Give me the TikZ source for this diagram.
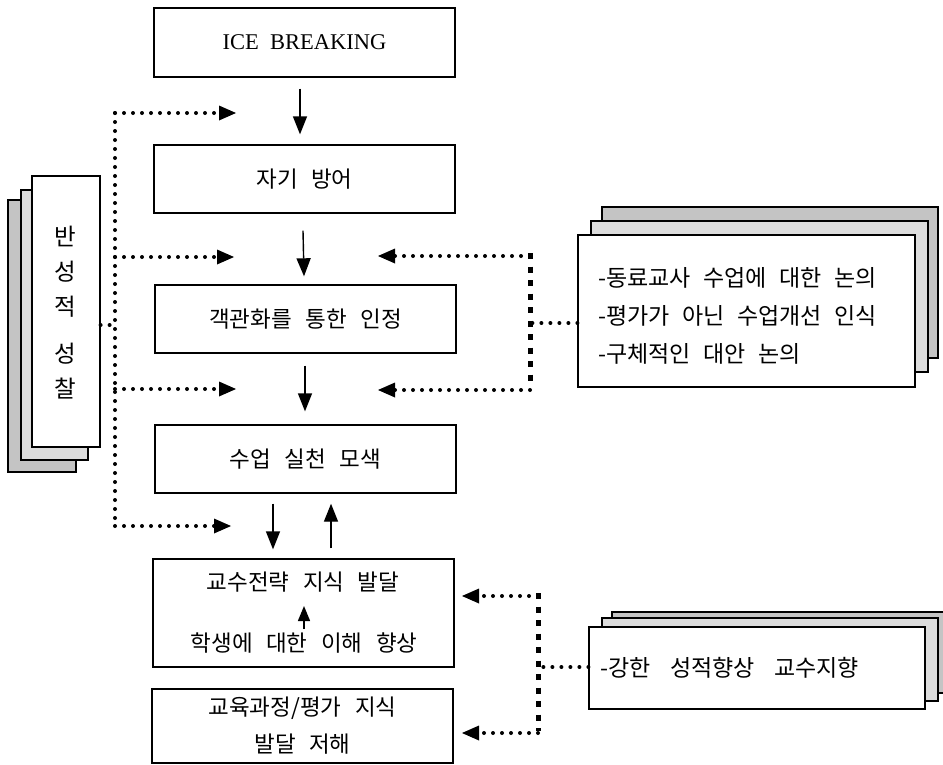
\documentclass[tikz,border=0pt]{standalone}
\usepackage{fontspec}
\setmainfont{Liberation Serif}
\newfontfamily\kr{Noto Sans CJK KR}
\newcommand\ks{\hspace{0.6em}}
\newcommand\kss{\hspace{0.55em}}
\newcommand\ksb{\hspace{0.85em}}
\usetikzlibrary{arrows.meta}
\definecolor{backgray}{HTML}{C4C4C4}
\definecolor{midgray}{HTML}{DCDCDC}
\begin{document}
\begin{tikzpicture}[x=1pt,y=-1pt,
  box/.style={draw,line width=1.4pt,inner sep=0pt,align=center,
    minimum width=301pt,font=\kr\fontsize{22.5}{37}\selectfont},
  sheet/.style={draw,line width=1.2pt},
  front/.style={sheet,fill=white,inner sep=0pt},
  flow/.style={line width=1.4pt,-{Triangle[length=18pt,width=14pt]}},
  dotline/.style={line width=4pt,line cap=round,dash pattern=on 0pt off 9pt},
  sqline/.style={line width=5pt,line cap=butt,dash pattern=on 6pt off 7.5pt},
  dotarrow/.style={dotline,-{Triangle[length=17pt,width=15pt,line width=0pt]}},
  sidetext/.style={font=\kr\fontsize{23}{38}\selectfont}
]
\useasboundingbox (0,0) rectangle (943,764);

% main column
\node[box,minimum height=69pt] (ice) at (304.5,42.5) {\rmfamily\fontsize{22.5}{26}\selectfont ICE\ \ BREAKING};
\node[box,minimum height=68pt] (def) at (304.5,179) {자기\ks 방어};
\node[box,minimum height=68pt] (obj) at (305.5,319) {객관화를\ks 통한\ks 인정};
\node[box,minimum height=68pt] (prac) at (305.5,459) {수업\ks 실천\ks 모색};
\node[box,minimum height=108pt] (strat) at (303.5,613) {};
\node[font=\kr\fontsize{22.5}{26}\selectfont] (stratA) at (303,582) {교수전략\ks 지식\ks 발달};
\node[font=\kr\fontsize{22.5}{26}\selectfont] (stratB) at (304,643) {학생에\ks 대한\ks 이해\ks 향상};
\node[box,minimum height=74pt] (curr) at (302.5,726) {교육과정/평가\ks 지식\\발달\ks 저해};

% solid arrows
\draw[flow] ([xshift=-4.5pt,yshift=-11pt]ice.south) -- ([xshift=-4.5pt,yshift=10pt]def.north);
\draw[flow] ([xshift=-1.5pt,yshift=-17pt]def.south) -- ([xshift=-1.5pt,yshift=8pt]obj.north);
\draw[flow] ([xshift=-0.5pt,yshift=-12pt]obj.south) -- ([xshift=-0.5pt,yshift=13pt]prac.north);
\draw[flow] ([xshift=-32.5pt,yshift=-10pt]prac.south) -- ([xshift=-30.5pt,yshift=9pt]strat.north);
\draw[flow] ([xshift=27.5pt,yshift=10pt]strat.north) -- ([xshift=25.5pt,yshift=-10pt]prac.south);
\coordinate (ia1) at (304,629);
\coordinate (ia2) at (304,606);
\draw[line width=1.4pt,-{Triangle[length=15pt,width=12pt]}] (ia1) -- (ia2);

% left stacked sheets
\draw[sheet,fill=backgray] (8,200) rectangle (76,472);
\draw[sheet,fill=midgray] (21,190) rectangle (88,460);
\node[front,minimum width=68pt,minimum height=271pt] (refl) at (66,311.5) {};
\node[font=\kr\fontsize{23.5}{35}\selectfont,align=center,inner sep=0pt] (refltext) at (65,313) {반\\성\\적\\[12pt]성\\찰};

% left dotted bus
\coordinate (lb1) at (115,113);
\coordinate (lb2) at (115,257);
\coordinate (lbm) at (115,325);
\coordinate (lb3) at (115,389);
\coordinate (lb4) at (115,526);
\coordinate (lt1) at (236,113);
\coordinate (lt2) at (234,257);
\coordinate (lt3) at (236,389);
\coordinate (lt4) at (231,526);
\draw[dotline] (lb1) -- (lb4);
\draw[dotline] (refl.east |- lbm) -- (lbm);
\draw[dotarrow] (lb1) -- (lt1);
\draw[dotarrow] (lb2) -- (lt2);
\draw[dotarrow] (lb3) -- (lt3);
\draw[dotarrow] (lb4) -- (lt4);

% right top stacked sheets
\draw[sheet,fill=backgray] (602,207) rectangle (938,358);
\draw[sheet,fill=midgray] (591,221) rectangle (928,372);
\node[front,minimum width=337pt,minimum height=152pt] (peer) at (746.5,311) {};
\node[sidetext,align=left,anchor=west,inner sep=0pt] (peertext) at (598,316) {-동료교사\kss 수업에\kss 대한\kss 논의\\-평가가\kss 아닌\kss 수업개선\kss 인식\\-구체적인\kss 대안\kss 논의};

\coordinate (rb1) at (530,256);
\coordinate (rbm) at (530,323);
\coordinate (rb2) at (530,390);
\coordinate (rt1) at (378,256);
\coordinate (rt2) at (378,390);
\draw[sqline] (530,253) -- (530,388);
\draw[dotline] (peer.west |- rbm) -- (rbm);
\draw[dotarrow] (rb1) -- (rt1);
\draw[dotarrow] (rb2) -- (rt2);

% right bottom stacked sheets
\draw[sheet,fill=backgray] (612,612) rectangle (948,693);
\draw[sheet,fill=midgray] (602,618) rectangle (938,701);
\node[front,minimum width=336pt,minimum height=82pt] (grade) at (757,668) {};
\node[sidetext,anchor=west,inner sep=0pt] (gradetext) at (600,668) {-강한\ksb 성적향상\ksb 교수지향};

\coordinate (bb1) at (538,596);
\coordinate (bbm) at (538,667);
\coordinate (bb2) at (538,733);
\coordinate (bt1) at (462,596);
\coordinate (bt2) at (462,733);
\draw[sqline] (538,593) -- (538,731);
\draw[dotline] (grade.west |- bbm) -- (bbm);
\draw[dotarrow] (bb1) -- (bt1);
\draw[dotarrow] (bb2) -- (bt2);
\end{tikzpicture}
\end{document}
